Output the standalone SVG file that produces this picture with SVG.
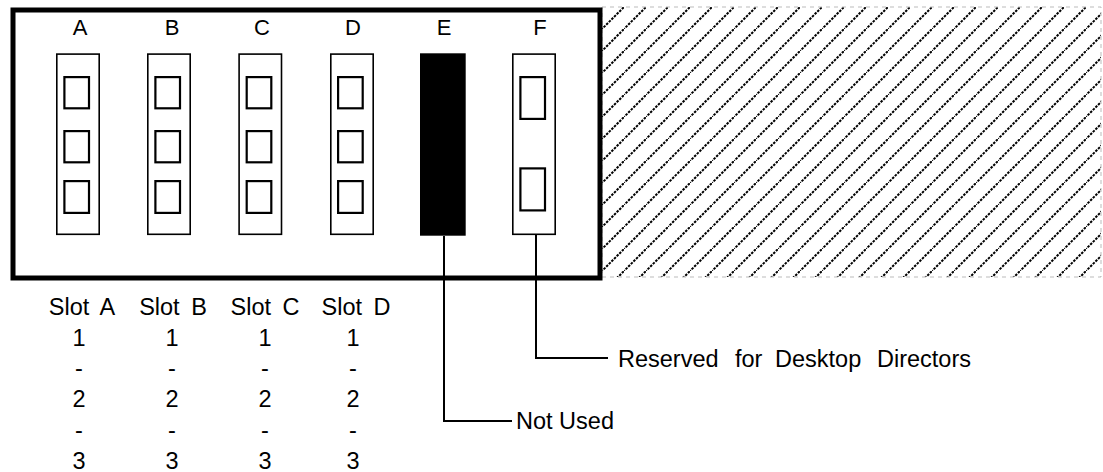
<svg xmlns="http://www.w3.org/2000/svg" width="1103" height="472" viewBox="0 0 1103 472">
<style>
  text { font-family: "Liberation Sans", Arial, sans-serif; fill: #000; }
  .hdr { font-size: 22px; text-anchor: middle; }
  .tbl { font-size: 23.5px; text-anchor: middle; }
  .lbl { font-size: 23.5px; }
  .col { fill: #fff; stroke: #000; stroke-width: 1.6; }
  .sq { fill: #fff; stroke: #000; stroke-width: 2.2; }
  .conn { fill: none; stroke: #000; stroke-width: 2; }
</style>
<defs>
  <pattern id="hatch" x="602" y="7" width="22" height="22" patternUnits="userSpaceOnUse">
    <line x1="-1" y1="23" x2="23" y2="-1" stroke="#000" stroke-width="2" stroke-dasharray="2.5 1.2"/>
  </pattern>
</defs>
<rect width="1103" height="472" fill="#fff"/>

<g id="hatched-area">
  <rect x="602" y="7" width="499" height="270" fill="url(#hatch)" stroke="#bbb" stroke-width="1" stroke-dasharray="4 4"/>
</g>

<g id="chassis">
  <rect x="13" y="10" width="587" height="268" fill="none" stroke="#000" stroke-width="5"/>
</g>

<g id="slot-A">
  <text class="hdr" x="80" y="34.5">A</text>
  <rect class="col" x="56.8" y="54.1" width="42.4" height="180.2"/>
  <rect class="sq" x="64.4" y="77.1" width="24.6" height="31.2"/>
  <rect class="sq" x="64.4" y="131.1" width="24.6" height="31.2"/>
  <rect class="sq" x="64.4" y="181.1" width="24.6" height="31.8"/>
</g>
<g id="slot-B">
  <text class="hdr" x="172" y="34.5">B</text>
  <rect class="col" x="147.8" y="54.1" width="42.4" height="180.2"/>
  <rect class="sq" x="155.4" y="77.1" width="24.6" height="31.2"/>
  <rect class="sq" x="155.4" y="131.1" width="24.6" height="31.2"/>
  <rect class="sq" x="155.4" y="181.1" width="24.6" height="31.8"/>
</g>
<g id="slot-C">
  <text class="hdr" x="262" y="34.5">C</text>
  <rect class="col" x="239.1" y="54.1" width="42.4" height="180.2"/>
  <rect class="sq" x="246.7" y="77.1" width="24.6" height="31.2"/>
  <rect class="sq" x="246.7" y="131.1" width="24.6" height="31.2"/>
  <rect class="sq" x="246.7" y="181.1" width="24.6" height="31.8"/>
</g>
<g id="slot-D">
  <text class="hdr" x="353" y="34.5">D</text>
  <rect class="col" x="330.8" y="54.1" width="42.4" height="180.2"/>
  <rect class="sq" x="338.1" y="77.1" width="24.6" height="31.2"/>
  <rect class="sq" x="338.1" y="131.1" width="24.6" height="31.2"/>
  <rect class="sq" x="338.1" y="181.1" width="24.6" height="31.8"/>
</g>
<g id="slot-E">
  <text class="hdr" x="444" y="34.5">E</text>
  <rect x="420" y="53.3" width="45.7" height="182.4" fill="#000"/>
</g>
<g id="slot-F">
  <text class="hdr" x="540" y="34.5">F</text>
  <rect class="col" x="512.8" y="54.1" width="42.4" height="180.2"/>
  <rect class="sq" x="520.4" y="77.1" width="24.6" height="41.8"/>
  <rect class="sq" x="520.4" y="168.4" width="24.6" height="42"/>
</g>

<g id="connectors">
  <polyline class="conn" points="444,236 444,421 512,421"/>
  <polyline class="conn" points="536,235 536,358 608,358"/>
</g>

<g id="label-reserved">
  <text class="lbl" y="367"><tspan x="618">Reserved</tspan><tspan x="735">for</tspan><tspan x="775">Desktop</tspan><tspan x="877">Directors</tspan></text>
</g>
<g id="label-not-used">
  <text class="lbl" x="516" y="429">Not Used</text>
</g>

<g id="slot-table">
  <text class="tbl" x="82" y="315" word-spacing="5">Slot A</text>
  <text class="tbl" x="173" y="315" word-spacing="5">Slot B</text>
  <text class="tbl" x="265" y="315" word-spacing="5">Slot C</text>
  <text class="tbl" x="356" y="315" word-spacing="5">Slot D</text>

  <text class="tbl" x="79" y="345.5">1</text>
  <text class="tbl" x="172" y="345.5">1</text>
  <text class="tbl" x="265" y="345.5">1</text>
  <text class="tbl" x="353" y="345.5">1</text>

  <text class="tbl" x="79" y="376">-</text>
  <text class="tbl" x="172" y="376">-</text>
  <text class="tbl" x="265" y="376">-</text>
  <text class="tbl" x="353" y="376">-</text>

  <text class="tbl" x="79" y="407">2</text>
  <text class="tbl" x="172" y="407">2</text>
  <text class="tbl" x="265" y="407">2</text>
  <text class="tbl" x="353" y="407">2</text>

  <text class="tbl" x="79" y="438">-</text>
  <text class="tbl" x="172" y="438">-</text>
  <text class="tbl" x="265" y="438">-</text>
  <text class="tbl" x="353" y="438">-</text>

  <text class="tbl" x="79" y="469">3</text>
  <text class="tbl" x="172" y="469">3</text>
  <text class="tbl" x="265" y="469">3</text>
  <text class="tbl" x="353" y="469">3</text>
</g>
</svg>
